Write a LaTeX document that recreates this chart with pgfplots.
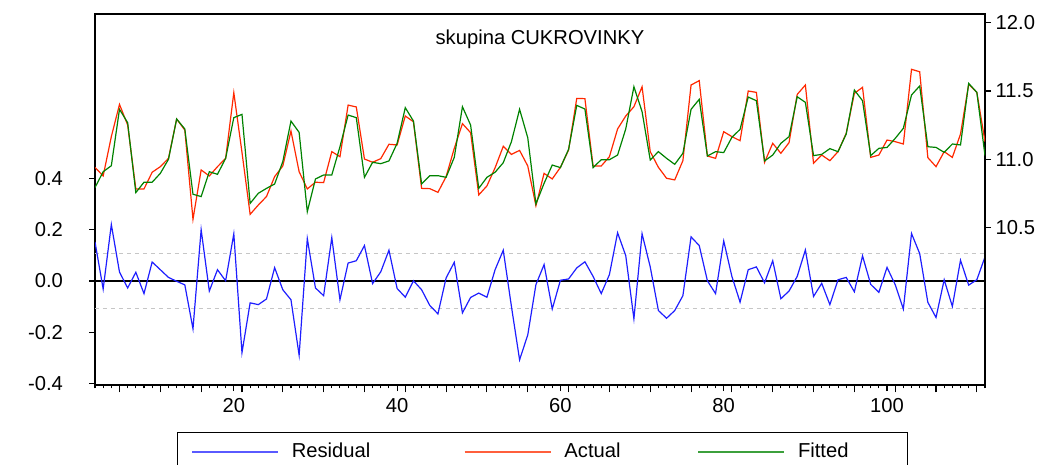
\documentclass[border=0pt]{standalone}
\usepackage{fontspec}
\setmainfont{Liberation Sans}
\usepackage{pgfplots}
\usepackage{pgfplotstable}
\pgfplotsset{compat=1.18}
\definecolor{resblue}{RGB}{30,30,255}
\definecolor{actred}{RGB}{255,40,0}
\definecolor{fitgreen}{RGB}{0,130,0}
\definecolor{legblue}{RGB}{90,90,255}
\definecolor{legred}{RGB}{255,95,60}
\definecolor{leggreen}{RGB}{60,160,60}

% obs, residual, actual, fitted
\pgfplotstableread{
obs res act fit
3 0.152 10.941 10.793
4 -0.031 10.878 10.909
5 0.220 11.166 10.953
6 0.035 11.402 11.366
7 -0.027 11.251 11.268
8 0.034 10.783 10.756
9 -0.049 10.783 10.832
10 0.074 10.905 10.832
11 0.044 10.946 10.897
12 0.014 11.007 11.000
13 -0.001 11.295 11.295
14 -0.015 11.214 11.222
15 -0.186 10.561 10.744
16 0.200 10.922 10.727
17 -0.039 10.878 10.909
18 0.044 10.946 10.890
19 0.001 11.007 11.007
20 0.184 11.488 11.305
21 -0.279 11.051 11.329
22 -0.085 10.597 10.677
23 -0.092 10.665 10.751
24 -0.070 10.727 10.787
25 0.052 10.873 10.819
26 -0.034 10.951 10.983
27 -0.073 11.207 11.280
28 -0.289 10.909 11.197
29 0.165 10.783 10.617
30 -0.027 10.832 10.856
31 -0.057 10.829 10.885
32 0.169 11.056 10.885
33 -0.073 11.019 11.092
34 0.070 11.397 11.324
35 0.079 11.383 11.305
36 0.138 11.002 10.868
37 -0.010 10.978 10.978
38 0.036 11.005 10.968
39 0.120 11.110 10.988
40 -0.029 11.105 11.117
41 -0.063 11.317 11.378
42 0.001 11.275 11.280
43 -0.034 10.787 10.819
44 -0.095 10.785 10.880
45 -0.128 10.758 10.880
46 0.012 10.873 10.868
47 0.073 11.080 11.014
48 -0.124 11.261 11.385
49 -0.064 11.195 11.251
50 -0.047 10.739 10.787
51 -0.063 10.805 10.868
52 0.044 10.938 10.905
53 0.120 11.095 10.975
54 -0.099 11.036 11.129
55 -0.307 11.065 11.366
56 -0.210 10.951 11.158
57 -0.014 10.660 10.673
58 0.064 10.897 10.824
59 -0.109 10.856 10.958
60 0.003 10.941 10.939
61 0.008 11.068 11.073
62 0.051 11.446 11.395
63 0.075 11.444 11.368
64 0.018 10.951 10.939
65 -0.049 10.951 10.997
66 0.025 11.019 10.997
67 0.188 11.222 11.031
68 0.099 11.317 11.222
69 -0.147 11.385 11.531
70 0.184 11.531 11.349
71 0.055 11.056 10.995
72 -0.115 10.941 11.056
73 -0.145 10.861 11.007
74 -0.115 10.849 10.963
75 -0.057 10.990 11.044
76 0.172 11.544 11.366
77 0.138 11.576 11.439
78 0.001 11.024 11.024
79 -0.049 11.007 11.056
80 0.156 11.202 11.049
81 0.018 11.166 11.161
82 -0.082 11.136 11.219
83 0.044 11.500 11.456
84 0.055 11.490 11.429
85 -0.007 10.978 10.988
86 0.079 11.117 11.031
87 -0.069 11.044 11.117
88 -0.039 11.122 11.166
89 0.018 11.475 11.458
90 0.121 11.544 11.417
91 -0.060 10.971 11.027
92 -0.009 11.031 11.036
93 -0.092 10.990 11.078
94 0.005 11.056 11.056
95 0.014 11.190 11.185
96 -0.042 11.483 11.507
97 0.098 11.527 11.429
98 -0.013 11.014 11.027
99 -0.044 11.031 11.080
100 0.053 11.141 11.087
101 -0.014 11.129 11.153
102 -0.109 11.112 11.227
103 0.185 11.659 11.471
104 0.107 11.641 11.537
105 -0.083 11.012 11.092
106 -0.142 10.946 11.087
107 0.005 11.056 11.051
108 -0.099 11.014 11.112
109 0.081 11.185 11.105
110 -0.016 11.549 11.556
111 0.005 11.490 11.490
112 0.094 11.129 11.027
}\data

\newcommand{\evfont}{\fontsize{15.2}{18}\selectfont}

\pgfplotsset{
  ev/.style={
    at={(71.25bp,-10.5bp)}, anchor=north west,
    scale only axis, width=667.5bp, height=278.25bp,
    xmin=3, xmax=112,
    tick align=outside,
    axis line style={line width=1.1bp},
    tick style={black, line width=0.8bp},
    major tick length=4.5bp,
    tick label style={font=\evfont},
    /pgf/number format/assume math mode=true,
    yticklabel style={/pgf/number format/fixed,
      /pgf/number format/fixed zerofill, /pgf/number format/precision=1},
  },
  legline/.style={legend image code/.code={%
    \pgfsetlinewidth{1.6bp}\pgfsetstrokecolor{#1}%
    \pgfpathmoveto{\pgfpoint{0bp}{0bp}}%
    \pgfpathlineto{\pgfpoint{64.5bp}{0bp}}%
    \pgfusepath{stroke}}},
}

\begin{document}
\begin{tikzpicture}
\path[use as bounding box] (0,0) rectangle (786bp,-348.75bp);

\begin{axis}[ev,
  ymin=-0.405, ymax=1.04,
  xtick pos=bottom, ytick pos=left,
  ytick={-0.4,-0.2,0,0.2,0.4},
  yticklabel style={xshift=-16bp},
  xticklabel style={yshift=-2bp},
  xtick={20,40,60,80,100},
  minor xtick={3,4,...,112},
  minor tick length=2.5bp,
  extra x ticks={6,11,16,21,26,31,36,41,46,51,56,61,66,71,76,81,86,91,96,101,106,111},
  extra x tick labels={},
  extra x tick style={major tick length=5.5bp},
  title={skupina CUKROVINKY},
  title style={at={(0.5,0.91)}, anchor=center, font=\evfont},
]
\addplot[draw=gray!45, dashed, line width=0.8bp] coordinates {(3,0.107)(112,0.107)};
\addplot[draw=gray!45, dashed, line width=0.8bp] coordinates {(3,-0.107)(112,-0.107)};
\addplot[draw=black, line width=1.1bp] coordinates {(3,0)(112,0)};
\addplot[draw=resblue, line width=0.9bp] table[x=obs, y=res] {\data};
\end{axis}

\begin{axis}[ev,
  ymin=9.347, ymax=12.064,
  axis x line=none, axis y line*=right,
  ytick={10.5,11,11.5,12},
  legend columns=3,
  legend cell align=left,
  legend style={at={(0.0921,-0.1267)}, anchor=north west,
    draw=black, line width=1bp, inner xsep=10bp, inner ysep=6bp,
    font=\evfont,
    /tikz/every odd column/.append style={column sep=7.5bp},
    /tikz/column 2/.append style={column sep=68bp},
    /tikz/column 4/.append style={column sep=55.5bp}},
]
\addplot[draw=actred, line width=0.9bp, forget plot] table[x=obs, y=act] {\data};
\addplot[draw=fitgreen, line width=0.9bp, forget plot] table[x=obs, y=fit] {\data};
\addlegendimage{legline=legblue}
\addlegendentry{Residual}
\addlegendimage{legline=legred}
\addlegendentry{Actual}
\addlegendimage{legline=leggreen}
\addlegendentry{\makebox[70bp][l]{Fitted}}
\end{axis}
\end{tikzpicture}
\end{document}
